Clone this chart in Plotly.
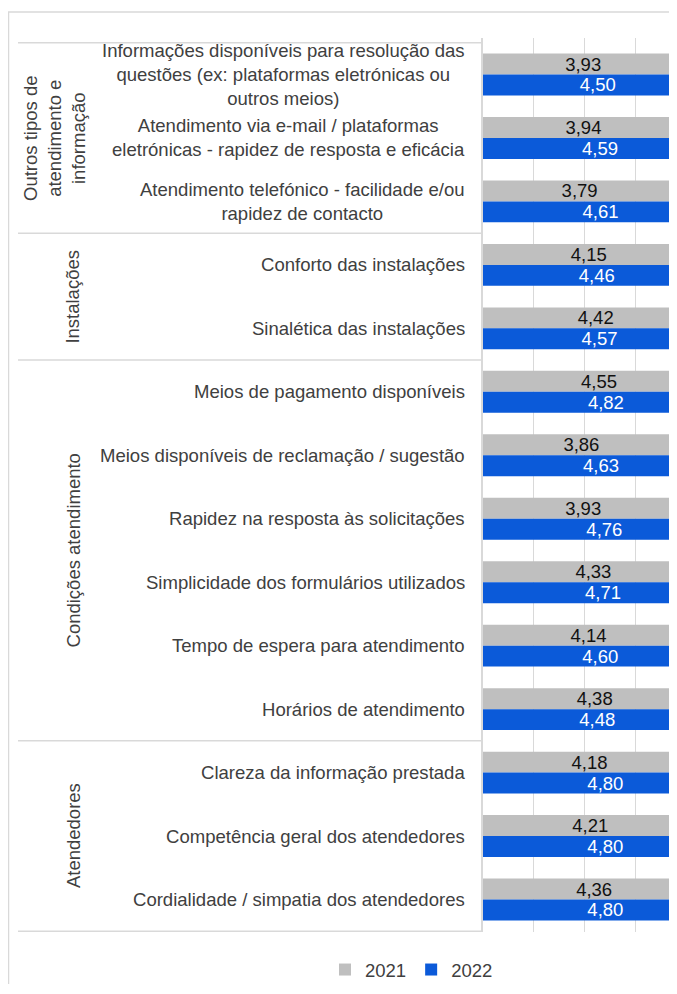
import plotly.graph_objects as go

# categories, top to bottom
categories = [
    "Informações disponíveis para resolução das<br>questões (ex: plataformas eletrónicas ou<br>outros meios)",
    "Atendimento via e-mail / plataformas<br>eletrónicas - rapidez de resposta e eficácia",
    "Atendimento telefónico - facilidade e/ou<br>rapidez de contacto",
    "Conforto das instalações",
    "Sinalética das instalações",
    "Meios de pagamento disponíveis",
    "Meios disponíveis de reclamação / sugestão",
    "Rapidez na resposta às solicitações",
    "Simplicidade dos formulários utilizados",
    "Tempo de espera para atendimento",
    "Horários de atendimento",
    "Clareza da informação prestada",
    "Competência geral dos atendedores",
    "Cordialidade / simpatia dos atendedores",
]
values_2021 = [3.93, 3.94, 3.79, 4.15, 4.42, 4.55, 3.86, 3.93, 4.33, 4.14, 4.38, 4.18, 4.21, 4.36]
values_2022 = [4.50, 4.59, 4.61, 4.46, 4.57, 4.82, 4.63, 4.76, 4.71, 4.60, 4.48, 4.80, 4.80, 4.80]

groups = ["Outros tipos de<br>atendimento e<br>informação", "Instalações",
          "Condições atendimento", "Atendedores"]
group_sizes = [3, 2, 6, 3]

FONT = "Liberation Sans, Arial, sans-serif"
GRAY = "#bfbfbf"
BLUE = "#0b5ad9"
LINE = "#d9d9d9"
TXT = "#404040"

# page body has an 8px margin, so the figure is placed at (8, 8)
OFF = 8
W, H = 677 - OFF, 976
L, R, T = 483 - OFF, 0, 38 - OFF
B = H - (932 - OFF)
pw, ph = W - L - R, H - T - B


def px_x(x):
    # page pixel -> paper coordinate
    return (x - OFF - L) / pw


def px_y(y):
    return 1 - (y - OFF - T) / ph


fig = go.Figure()
fig.add_trace(go.Bar(
    name="2021", y=categories, x=values_2021, orientation="h",
    marker=dict(color=GRAY, line=dict(width=0)),
    texttemplate="%{x:.2f}", textposition="inside", insidetextanchor="middle",
    constraintext="none", textangle=0,
    insidetextfont=dict(family=FONT, size=18.5, color="#111111"),
))
fig.add_trace(go.Bar(
    name="2022", y=categories, x=values_2022, orientation="h",
    marker=dict(color=BLUE, line=dict(width=0)),
    texttemplate="%{x:.2f}", textposition="inside", insidetextanchor="middle",
    constraintext="none", textangle=0,
    insidetextfont=dict(family=FONT, size=18.5, color="white"),
))

# category labels (centered lines, right edge near the axis)
for c in categories:
    fig.add_annotation(x=px_x(467), xref="paper", y=c, yref="y", text=c,
                       xanchor="right", yanchor="middle", align="center",
                       showarrow=False,
                       font=dict(family=FONT, size=18.55, color=TXT))

# group dividers and rotated group labels
start = 0
fig.add_shape(type="line", xref="paper", yref="y", x0=px_x(18), x1=0,
              y0=-0.5, y1=-0.5, line=dict(color=LINE, width=1.5))
for g, n in zip(groups, group_sizes):
    end = start + n
    fig.add_shape(type="line", xref="paper", yref="y", x0=px_x(18), x1=0,
                  y0=end - 0.5, y1=end - 0.5, line=dict(color=LINE, width=1.5))
    fig.add_annotation(x=px_x(55 if "<br>" in g else 73), xref="paper",
                       y=(start + end - 1) / 2, yref="y", text=g, textangle=-90,
                       xanchor="center", yanchor="middle",
                       showarrow=False, align="center",
                       font=dict(family=FONT, size=18.5, color=TXT))
    start = end

# outer chart frame
fig.add_shape(type="rect", xref="paper", yref="paper", x0=px_x(8.5), x1=1.5,
              y0=-0.2, y1=px_y(12), line=dict(color=LINE, width=1.5), layer="below")

fig.update_layout(
    width=W, height=H,
    margin=dict(l=L, r=R, t=T, b=B, pad=0),
    barmode="group", bargap=0.34, bargroupgap=0,
    separators=",.",
    plot_bgcolor="white", paper_bgcolor="white",
    font=dict(family=FONT, size=18, color=TXT),
    showlegend=True,
    legend=dict(orientation="h", xref="container", yref="container",
                x=(325 - OFF) / W, xanchor="left",
                y=1 - (970 - OFF) / H, yanchor="middle",
                font=dict(size=18.5, color=TXT),
                itemwidth=30, traceorder="normal"),
    xaxis=dict(range=[0, 3.805], showticklabels=False, showgrid=True,
               gridcolor=LINE, gridwidth=1, zeroline=False, dtick=1, tick0=0,
               showline=False),
    yaxis=dict(autorange="reversed", showticklabels=False, showgrid=False,
               showline=True, linecolor=LINE, linewidth=1.5, ticks=""),
)

fig.write_html("out.html")
